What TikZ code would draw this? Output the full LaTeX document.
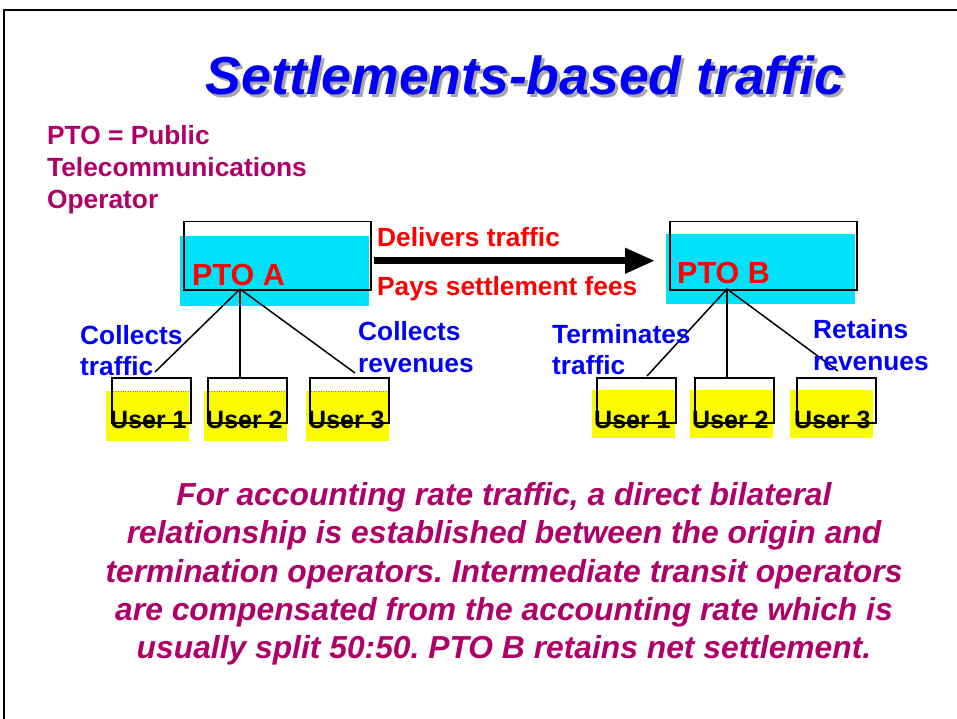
\documentclass[tikz,border=0pt]{standalone}
\usepackage{fontspec}
\setmainfont{Liberation Sans}
\usetikzlibrary{arrows.meta}
\definecolor{magen}{RGB}{175,0,105}
\definecolor{cyanbg}{RGB}{0,226,250}
\definecolor{yel}{RGB}{250,250,0}
\definecolor{redt}{RGB}{255,0,0}
\definecolor{bluet}{RGB}{0,0,250}
\frenchspacing
\begin{document}
\begin{tikzpicture}[x=1pt,y=-1pt,
  txt/.style={inner sep=0pt, anchor=base west, font=\fontsize{26.3}{30}\selectfont\bfseries},
  bluelbl/.style={txt, text=bluet},
  redlbl/.style={txt, text=redt},
  magenlbl/.style={txt, text=magen},
  ptolbl/.style={txt, text=redt, font=\fontsize{30.5}{36}\selectfont\bfseries},
  userlbl/.style={txt, text=black, font=\fontsize{25}{30}\selectfont\bfseries},
  outlinebox/.style={draw, line width=1.5pt, inner sep=0pt, anchor=north west, minimum width=#1},
  ptobox/.style={outlinebox=187pt, minimum height=68pt},
  userbox/.style={outlinebox=79pt, minimum height=45pt},
  para/.style={inner sep=0pt, anchor=base, text=magen, font=\fontsize{31.8}{38}\selectfont\bfseries\itshape},
  conn/.style={line width=1.5pt}
]
\useasboundingbox (0,0) rectangle (957,719);
\fill[white] (0,0) rectangle (957,719);
\draw[line width=2pt] (4,719) -- (4,10) -- (957,10);

% title
\node[inner sep=0pt, anchor=base, text=black!35, font=\fontsize{53.5}{60}\selectfont\bfseries\itshape] at (528,98) {Settlements-based traffic};
\node[inner sep=0pt, anchor=base, text=bluet, font=\fontsize{53.5}{60}\selectfont\bfseries\itshape] (title) at (525,95) {Settlements-based traffic};

% definition
\node[magenlbl] (def1) at (47,145) {PTO = Public};
\node[magenlbl] (def2) at (47,177) {Telecommunications};
\node[magenlbl] (def3) at (47,209) {Operator};

% PTO A
\fill[cyanbg] (180,236) rectangle (369,306);
\node[ptobox] (ptoA) at (183,221) {};
\node[ptolbl] (ptoAl) at (192,285) {PTO A};

% PTO B
\fill[cyanbg] (666,234) rectangle (855,304);
\node[ptobox] (ptoB) at (669,221) {};
\node[ptolbl] (ptoBl) at (677,283) {PTO B};

% arrow
\draw[line width=7pt, -{Triangle[length=30pt,width=24pt]}]
  ([xshift=2pt,yshift=-5pt]ptoA.east) -- ([xshift=-14pt,yshift=-5pt]ptoB.west);
\node[redlbl] (deliv) at (377,247) {Delivers traffic};
\node[redlbl] (pays) at (377,295) {Pays settlement fees};

% users left
\fill[yel] (106,391) rectangle (189,441);
\fill[yel] (204,391) rectangle (287,441);
\fill[yel] (306,391) rectangle (389,441);
\draw[black!50, dotted] (111,391) -- (189,391);
\draw[black!50, dotted] (207,391) -- (287,391);
\draw[black!50, dotted] (309,391) -- (389,391);
\node[userbox] (uA1) at (111,377) {};
\node[userbox] (uA2) at (207,377) {};
\node[userbox] (uA3) at (309,377) {};
\node[userlbl] (uA1l) at (110,428) {User 1};
\node[userlbl] (uA2l) at (206,428) {User 2};
\node[userlbl] (uA3l) at (308,428) {User 3};

% users right
\fill[yel] (592,390) rectangle (675,438);
\fill[yel] (690,390) rectangle (773,438);
\fill[yel] (790,390) rectangle (873,438);
\node[userbox] (uB1) at (596,377) {};
\node[userbox] (uB2) at (694,377) {};
\node[userbox] (uB3) at (796,377) {};
\node[userlbl] (uB1l) at (594,428) {User 1};
\node[userlbl] (uB2l) at (692,428) {User 2};
\node[userlbl] (uB3l) at (794,428) {User 3};

% connectors
\coordinate (hubA) at (240,289);
\coordinate (eA1) at (155,372);
\coordinate (eA3) at (355,373);
\draw[conn] (hubA) -- (eA1);
\draw[conn] (hubA) -- (hubA |- uA2.north);
\draw[conn] (hubA) -- (eA3);
\coordinate (hubB) at (727,289);
\coordinate (eB1) at (647,376);
\coordinate (eB3) at (838,371);
\draw[conn] (hubB) -- (eB1);
\draw[conn] (hubB) -- (hubB |- uB2.north);
\draw[conn] (hubB) -- (eB3);

% blue labels
\node[bluelbl] (ct1) at (80,344) {Collects};
\node[bluelbl] (ct2) at (80,375) {traffic};
\node[bluelbl] (cr1) at (358,340) {Collects};
\node[bluelbl] (cr2) at (358,372) {revenues};
\node[bluelbl] (tt1) at (552,343) {Terminates};
\node[bluelbl] (tt2) at (552,374) {traffic};
\node[bluelbl] (rr1) at (813,338) {Retains};
\node[bluelbl] (rr2) at (813,370) {revenues};

% paragraph
\node[para] (p1) at (504,505) {For accounting rate traffic, a direct bilateral};
\node[para] (p2) at (504,543) {relationship is established between the origin and};
\node[para] (p3) at (504,582) {termination operators. Intermediate transit operators};
\node[para] (p4) at (504,620) {are compensated from the accounting rate which is};
\node[para] (p5) at (504,658) {usually split 50:50. PTO B retains net settlement.};
\end{tikzpicture}
\end{document}
